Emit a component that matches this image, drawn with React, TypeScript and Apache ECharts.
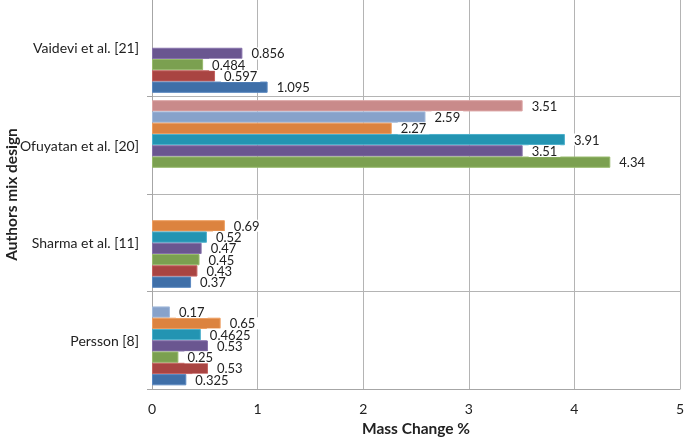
import React, { useEffect, useRef } from "react";
import * as echarts from "echarts";

const categories = ["Persson [8]", "Sharma et al. [11]", "Ofuyatan et al. [20]", "Vaidevi et al. [21]"];
const seriesBlue = [0.325, 0.37, null, 1.095];
const seriesRed = [0.53, 0.43, null, 0.597];
const seriesGreen = [0.25, 0.45, 4.34, 0.484];
const seriesPurple = [0.53, 0.47, 3.51, 0.856];
const seriesTeal = [0.4625, 0.52, 3.91, null];
const seriesOrange = [0.65, 0.69, 2.27, null];
const seriesLightBlue = [0.17, null, 2.59, null];
const seriesPink = [null, null, 3.51, null];

const xTitle = "Mass Change %";
const yTitle = "Authors mix design";

// listed top-to-bottom within each category band
const seriesList = [
  { data: seriesPink, color: "#C98A8A", border: "#DCA5A5" },
  { data: seriesLightBlue, color: "#87A2CA", border: "#A3BBDD" },
  { data: seriesOrange, color: "#DC833F", border: "#EE9E60" },
  { data: seriesTeal, color: "#2394B2", border: "#4DB0CC" },
  { data: seriesPurple, color: "#6A5690", border: "#8671AA" },
  { data: seriesGreen, color: "#7BA050", border: "#97BA6C" },
  { data: seriesRed, color: "#A94442", border: "#C46260" },
  { data: seriesBlue, color: "#3F6FA8", border: "#5B88C0" },
];

const FONT = "Lato, 'Open Sans', sans-serif";

export default function App() {
  const ref = useRef<HTMLDivElement>(null);
  useEffect(() => {
    if (!ref.current) return;
    const chart = echarts.init(ref.current, undefined, { renderer: "svg" });
    chart.setOption({
      animation: false,
      textStyle: { fontFamily: FONT },
      grid: { left: 152, right: 5, top: -1, bottom: 51, containLabel: false, outerBoundsMode: "none" },
      graphic: [
        {
          type: "text",
          x: 11,
          y: 194.5,
          rotation: Math.PI / 2,
          style: {
            text: yTitle,
            fontFamily: FONT,
            fontWeight: "bold",
            fontSize: 15.5,
            fill: "#222",
            align: "center",
            verticalAlign: "middle",
          },
        },
      ],
      xAxis: {
        type: "value",
        min: 0,
        max: 5,
        interval: 1,
        name: xTitle,
        nameLocation: "middle",
        nameGap: 31,
        nameTextStyle: { fontFamily: FONT, fontWeight: "bold", fontSize: 15.5, color: "#222" },
        axisLine: { show: true, lineStyle: { color: "#a6a6a6", width: 1 } },
        axisTick: { show: false },
        axisLabel: { fontFamily: FONT, fontSize: 14, color: "#222", margin: 12 },
        splitLine: { show: true, lineStyle: { color: "#b4b4b4", width: 1 } },
      },
      yAxis: {
        type: "category",
        data: categories,
        axisLine: { show: true, lineStyle: { color: "#a6a6a6", width: 1 } },
        axisTick: { show: true, length: 5, lineStyle: { color: "#a6a6a6" } },
        axisLabel: { fontFamily: FONT, fontSize: 14, color: "#222", margin: 13 },
        splitLine: { show: true, lineStyle: { color: "#b4b4b4", width: 1 } },
      },
      series: seriesList.map((s) => ({
        type: "bar",
        data: s.data,
        barGap: "0%",
        barCategoryGap: "7.5%",
        itemStyle: { color: s.color, borderColor: s.border, borderWidth: 1 },
        label: {
          show: true,
          position: "right",
          distance: 6,
          fontFamily: FONT,
          fontSize: 13,
          lineHeight: 12,
          color: "#222",
          backgroundColor: "#ffffff",
          padding: [0, 3],
          formatter: (p: any) => String(p.value),
        },
      })),
    });
    return () => chart.dispose();
  }, []);
  return <div ref={ref} style={{ position: "fixed", left: 0, top: 0, width: 685, height: 440 }} />;
}
